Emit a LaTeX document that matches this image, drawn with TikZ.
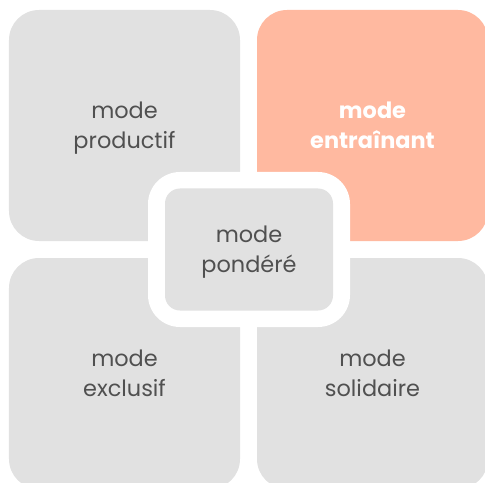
\documentclass[tikz,border=0pt]{standalone}
\usepackage{fontspec}
\setmainfont{Poppins}
\definecolor{tilegray}{HTML}{E1E1E1}
\definecolor{tilesalmon}{HTML}{FFB9A0}
\definecolor{tiletext}{HTML}{505050}
\begin{document}
\begin{tikzpicture}[
    x=1bp, y=-1bp,
    tile/.style={rectangle, rounded corners=30bp, fill=tilegray, minimum width=231bp, minimum height=231bp, inner sep=0pt, text depth=0pt, align=center, text=tiletext, font=\fontsize{22.5}{30}\selectfont},
    hot/.style={tile, fill=tilesalmon, text=white, font=\fontsize{22.5}{30}\selectfont\bfseries},
    halo/.style={rectangle, rounded corners=32bp, fill=white, minimum width=202bp, minimum height=155bp, inner sep=0pt},
    centre/.style={tile, rounded corners=15bp, minimum width=168bp, minimum height=122bp}
]
\useasboundingbox (0,0) rectangle (485,483);

% Four tiles
\node[tile] (productif) at (124.5,125.5) {mode\\productif};
\node[hot] (entrainant) at (372.5,125.5) {mode\\entraînant};
\node[tile] (exclusif) at (124.5,373.5) {mode\\exclusif};
\node[tile] (solidaire) at (372.5,373.5) {mode\\solidaire};

% Centre tile with white ring
\node[halo] (ring) at (249,249.5) {};
\node[centre] (pondere) at (ring.center) {mode\\pondéré};

\end{tikzpicture}
\end{document}
